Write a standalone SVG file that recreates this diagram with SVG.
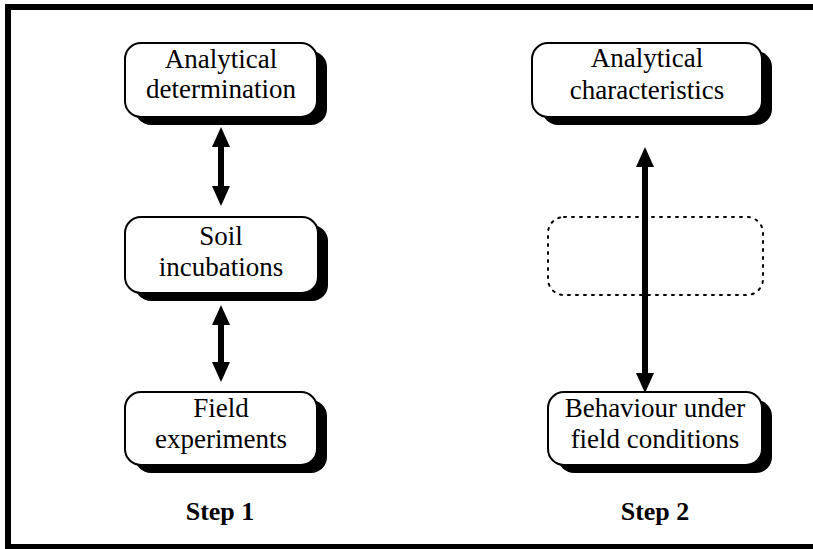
<svg xmlns="http://www.w3.org/2000/svg" width="813" height="549" viewBox="0 0 813 549">
<style>
.frame{fill:none;stroke:#000;stroke-width:6}
.shadow{fill:#000}
.box{fill:#fff;stroke:#000;stroke-width:2}
.dotted{fill:none;stroke:#000;stroke-width:2;stroke-dasharray:2 6;stroke-linecap:round}
.lbl{font-family:"Liberation Serif","Times New Roman",serif;font-size:27px;fill:#000;text-anchor:middle}
.step{font-family:"Liberation Serif","Times New Roman",serif;font-size:26px;font-weight:bold;fill:#000;text-anchor:middle}
.arr{stroke:#000;stroke-width:6;fill:none;marker-start:url(#ah);marker-end:url(#ah)}
</style>
<defs>
<marker id="ah" viewBox="0 0 20 18" markerWidth="20" markerHeight="18" refX="1" refY="9" orient="auto-start-reverse" markerUnits="userSpaceOnUse">
<path d="M0,0 L20,9 L0,18 Z" fill="#000"/>
</marker>
</defs>
<rect width="813" height="549" fill="#fff"/>
<path class="frame" d="M816 7 H8 V547 H816"/>

<g id="connectors">
<line class="arr" x1="221" y1="146" x2="221" y2="187"/>
<line class="arr" x1="221" y1="324" x2="221" y2="363"/>
<line class="arr" x1="645" y1="166" x2="645" y2="374"/>
</g>

<g id="analytical-determination">
<rect class="shadow" x="135" y="51" width="192" height="74" rx="16"/>
<rect class="box" x="125" y="43" width="192" height="74" rx="16"/>
<text class="lbl" x="221" y="68">Analytical</text>
<text class="lbl" x="221" y="98">determination</text>
</g>

<g id="soil-incubations">
<rect class="shadow" x="135" y="225" width="193" height="76" rx="16"/>
<rect class="box" x="125" y="217" width="193" height="76" rx="16"/>
<text class="lbl" x="221" y="245">Soil</text>
<text class="lbl" x="221" y="276">incubations</text>
</g>

<g id="field-experiments">
<rect class="shadow" x="135" y="400" width="192" height="73" rx="16"/>
<rect class="box" x="125" y="392" width="192" height="73" rx="16"/>
<text class="lbl" x="221" y="417">Field</text>
<text class="lbl" x="221" y="448">experiments</text>
</g>

<g id="step1">
<text class="step" x="220" y="520">Step 1</text>
</g>

<g id="analytical-characteristics">
<rect class="shadow" x="542" y="51" width="230" height="74" rx="16"/>
<rect class="box" x="532" y="43" width="230" height="74" rx="16"/>
<text class="lbl" x="647" y="67">Analytical</text>
<text class="lbl" x="647" y="99">characteristics</text>
</g>

<g id="empty-placeholder">
<rect class="dotted" x="548" y="217" width="215" height="78" rx="16"/>
</g>

<g id="behaviour-field">
<rect class="shadow" x="558" y="400" width="214" height="73" rx="16"/>
<rect class="box" x="548" y="392" width="214" height="73" rx="16"/>
<text class="lbl" x="655" y="417">Behaviour under</text>
<text class="lbl" x="655" y="448">field conditions</text>
</g>

<g id="step2">
<text class="step" x="655" y="520">Step 2</text>
</g>
</svg>
